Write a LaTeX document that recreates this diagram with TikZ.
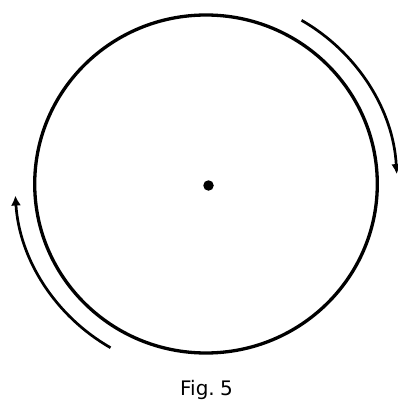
\documentclass[tikz,border=0pt]{standalone}
\usepackage{fontspec}
\setmainfont{DejaVu Sans}
\usetikzlibrary{arrows.meta}
\begin{document}
\begin{tikzpicture}[x=1pt,y=-1pt,
  rim/.style={line width=3.3pt},
  turn/.style={line width=2.7pt,-{Latex[length=10pt,width=10pt]}}]
\useasboundingbox (0,0) rectangle (398,401);
\coordinate (c) at (206,184);
\draw[rim] (c) ellipse [x radius=171.3, y radius=169];
\node[circle,fill=black,inner sep=0pt,minimum size=10.5pt] (dot) at (208.5,185.5) {};
\draw[turn] (c) ++(60:191 and -189) arc [start angle=60, end angle=3, x radius=191, y radius=-189];
\draw[turn] (c) ++(240:191 and -189) arc [start angle=240, end angle=183.5, x radius=191, y radius=-189];
\node[font=\fontsize{20}{24}\selectfont,anchor=base] (cap) at (206.5,395) {Fig.\kern-1pt\ 5};
\end{tikzpicture}
\end{document}
